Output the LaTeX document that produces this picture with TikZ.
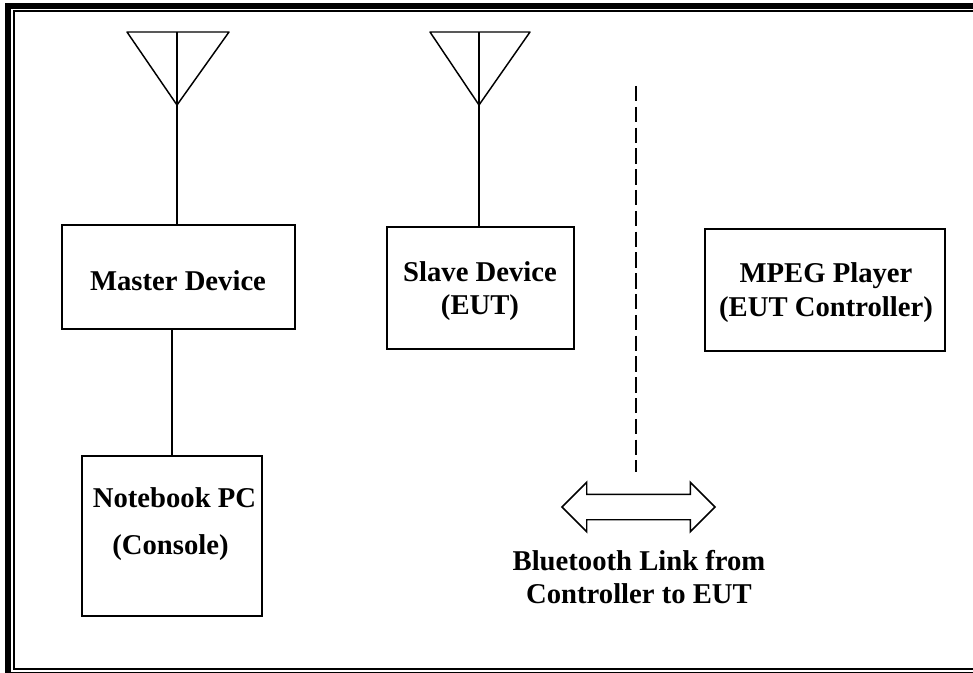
\documentclass[tikz,border=0pt]{standalone}
\usepackage{fontspec}
\setmainfont{Liberation Serif}
\usetikzlibrary{positioning}
\usetikzlibrary{shapes.arrows}
\tikzstyle{device}=[rectangle,draw,line width=1.1pt,inner sep=0pt]
\tikzstyle{antenna}=[line width=1.1pt,line join=round]
\tikzstyle{wire}=[draw,line width=1.1pt]
\tikzstyle{caption}=[align=center,inner sep=0pt,font=\fontsize{21.5}{25}\selectfont\bfseries]
\tikzset{linkarrow/.style={double arrow,draw,line width=1.1pt,inner sep=9pt,minimum height=114.75pt,minimum width=36pt,double arrow head extend=9pt,double arrow head indent=0pt}}
\begin{document}
\begin{tikzpicture}[x=0.75pt,y=-0.75pt]

 \useasboundingbox (0,0) rectangle (973,673);

 %frame
 \fill (5,3) rectangle (973,9);
 \fill (5,3) rectangle (11,673);
 \fill (13,10) rectangle (973,12);
 \fill (13,10) rectangle (15,670);
 \fill (13,668) rectangle (973,670);
 \fill (5,672) rectangle (973,673);

 %boxes
 \foreach \x/\y/\w/\h/\name in {178.5/277/233/104/master, 480.5/288/187/122/slave, 825/290/240/122/player, 172/536/180/160/notebook}
        \node[device,minimum width=0.75*\w pt,minimum height=0.75*\h pt] (\name) at (\x,\y) {};

 %labels
 \foreach \x/\y/\name/\label in {178/281/masterlabel/{Master Device}, 480/291/slavelabel/{Slave Device\\(EUT)}, 826/292.5/playerlabel/{MPEG Player\\(EUT Controller)}, 174.5/524/notebooklabel/{Notebook PC\\[10.5pt](Console)\hspace*{6pt}}}
        \node[caption] (\name) at (\x,\y) {\label};

 %antennas
 \foreach \x/\y/\d/\name in {177/105/50/ant1, 479/105/49/ant2}
 {
        \coordinate (\name) at (\x,\y);
        \coordinate (\name top) at (\x,32);
        \draw[antenna] (\name) -- (\x-\d,32) -- (\x+\d+2,32) -- cycle;
        \draw[antenna] (\name top) -- (\name);
 }

 %connectors
 \path[wire] (ant1) -- (ant1 |- master.north);
 \path[wire] (ant2) -- (ant2 |- slave.north);
 \path[wire] (master.south -| notebook.north) -- (notebook.north);

 %link
 \node[linkarrow] (link) at (638.5,507) {};
 \coordinate (dashtop) at (636,86);
 \draw[line width=1.1pt,dash pattern=on 11.6pt off 4pt] (dashtop) -- (dashtop |- 0,472);
 \node[caption] (linkname) at (639,577) {Bluetooth Link from\\Controller to EUT};

\end{tikzpicture}
\end{document}
